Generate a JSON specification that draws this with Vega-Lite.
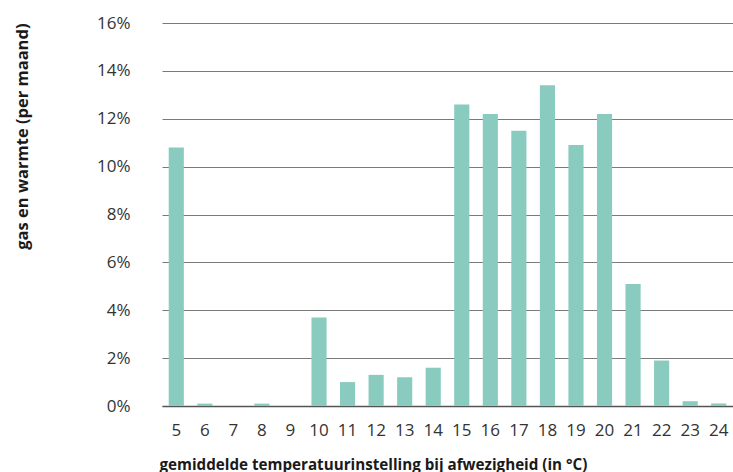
{
  "$schema": "https://vega.github.io/schema/vega-lite/v6.json",
  "width": 571,
  "height": 383,
  "autosize": "none",
  "padding": {"left": 162, "top": 23, "right": 0, "bottom": 66},
  "background": "white",
  "config": {"view": {"stroke": null}, "font": "Open Sans"},
  "data": {"values": [
    {"temp": "5", "share": 10.8},
    {"temp": "6", "share": 0.1},
    {"temp": "7", "share": 0},
    {"temp": "8", "share": 0.1},
    {"temp": "9", "share": 0},
    {"temp": "10", "share": 3.7},
    {"temp": "11", "share": 1.0},
    {"temp": "12", "share": 1.3},
    {"temp": "13", "share": 1.2},
    {"temp": "14", "share": 1.6},
    {"temp": "15", "share": 12.6},
    {"temp": "16", "share": 12.2},
    {"temp": "17", "share": 11.5},
    {"temp": "18", "share": 13.4},
    {"temp": "19", "share": 10.9},
    {"temp": "20", "share": 12.2},
    {"temp": "21", "share": 5.1},
    {"temp": "22", "share": 1.9},
    {"temp": "23", "share": 0.2},
    {"temp": "24", "share": 0.1}
  ]},
  "mark": {"type": "bar", "color": "#89cbbf"},
  "encoding": {
    "x": {
      "field": "temp", "type": "ordinal", "sort": null,
      "scale": {"paddingInner": 0.47, "paddingOuter": 0.235},
      "axis": {
        "title": "gemiddelde temperatuurinstelling bij afwezigheid (in °C)",
        "titleFont": "Open Sans", "titleFontSize": 15.2, "titleFontWeight": "bold", "titleColor": "#1a1a1a",
        "titleAnchor": "start", "titleAlign": "left", "titleX": -3, "titleY": 58, "titleBaseline": "middle",
        "labelAngle": 0, "labelFontSize": 17, "labelColor": "#333333", "labelPadding": 16,
        "ticks": false, "domain": true, "domainColor": "#555555", "domainWidth": 1.5
      }
    },
    "y": {
      "field": "share", "type": "quantitative",
      "scale": {"domain": [0, 16], "nice": false},
      "axis": {
        "title": "gas en warmte (per maand)",
        "titleFont": "Open Sans", "titleFontSize": 16.5, "titleFontWeight": "bold", "titleColor": "#1a1a1a",
        "titleAngle": -90, "titleAlign": "right", "titleBaseline": "middle", "titleX": -140, "titleY": 0,
        "values": [0, 2, 4, 6, 8, 10, 12, 14, 16],
        "labelExpr": "datum.value + '%'",
        "labelFontSize": 17, "labelColor": "#333333", "labelPadding": 32,
        "ticks": false, "domain": false,
        "grid": true, "gridColor": "#7a7a7a", "gridWidth": 1
      }
    }
  }
}
